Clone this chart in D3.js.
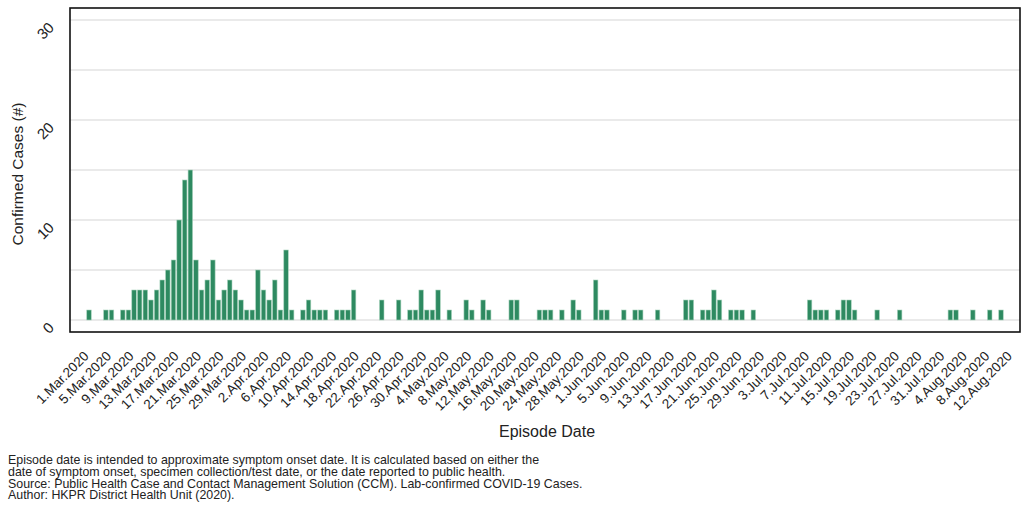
<!DOCTYPE html>
<html>
<head>
<meta charset="utf-8">
<script src="https://cdn.jsdelivr.net/npm/d3@7"></script>
<style>
  html, body { margin: 0; padding: 0; background: #fff; }
  svg { display: block; font-family: "Liberation Sans", Arial, sans-serif; }
</style>
</head>
<body>
<svg id="chart" width="1021" height="508"></svg>
<script>
// ---- data ----
const dates = [
  "2020-03-01","2020-03-04","2020-03-05","2020-03-07","2020-03-08","2020-03-09","2020-03-10",
  "2020-03-11","2020-03-12","2020-03-13","2020-03-14","2020-03-15","2020-03-16","2020-03-17",
  "2020-03-18","2020-03-19","2020-03-20","2020-03-21","2020-03-22","2020-03-23","2020-03-24",
  "2020-03-25","2020-03-26","2020-03-27","2020-03-28","2020-03-29","2020-03-30","2020-03-31",
  "2020-04-01","2020-04-02","2020-04-03","2020-04-04","2020-04-05","2020-04-06","2020-04-08",
  "2020-04-09","2020-04-10","2020-04-11","2020-04-12","2020-04-14","2020-04-15","2020-04-16",
  "2020-04-17","2020-04-22","2020-04-25","2020-04-27","2020-04-28","2020-04-29","2020-04-30",
  "2020-05-01","2020-05-02","2020-05-04","2020-05-07","2020-05-08","2020-05-10","2020-05-11",
  "2020-05-15","2020-05-16","2020-05-20","2020-05-21","2020-05-22","2020-05-24","2020-05-26",
  "2020-05-27","2020-05-30","2020-05-31","2020-06-01","2020-06-04","2020-06-06","2020-06-07",
  "2020-06-10","2020-06-15","2020-06-16","2020-06-18","2020-06-19","2020-06-20","2020-06-21",
  "2020-06-23","2020-06-24","2020-06-25","2020-06-27","2020-07-07","2020-07-08","2020-07-09",
  "2020-07-10","2020-07-12","2020-07-13","2020-07-14","2020-07-15","2020-07-19","2020-07-23",
  "2020-08-01","2020-08-02","2020-08-05","2020-08-08","2020-08-10"
];
const cases = [
  1,1,1,1,1,3,3,
  3,2,3,4,5,6,10,
  14,15,6,3,4,6,2,
  3,4,3,2,1,1,5,
  3,2,4,1,7,1,1,
  2,1,1,1,1,1,1,
  3,2,2,1,1,3,1,
  1,3,1,2,1,2,1,
  2,2,1,1,1,1,2,
  1,4,1,1,1,1,1,
  1,2,2,1,1,3,2,
  1,1,1,1,2,1,1,
  1,1,2,2,1,1,1,
  1,1,1,1,1
];
const tickDates = [
  "2020-03-01","2020-03-05","2020-03-09","2020-03-13","2020-03-17","2020-03-21","2020-03-25","2020-03-29",
  "2020-04-02","2020-04-06","2020-04-10","2020-04-14","2020-04-18","2020-04-22","2020-04-26","2020-04-30",
  "2020-05-04","2020-05-08","2020-05-12","2020-05-16","2020-05-20","2020-05-24","2020-05-28",
  "2020-06-01","2020-06-05","2020-06-09","2020-06-13","2020-06-17","2020-06-21","2020-06-25","2020-06-29",
  "2020-07-03","2020-07-07","2020-07-11","2020-07-15","2020-07-19","2020-07-23","2020-07-27","2020-07-31",
  "2020-08-04","2020-08-08","2020-08-12"
];
const yTickValues = [0, 10, 20, 30];
const yGridValues = [0, 5, 10, 15, 20, 25, 30];
const xTitle = "Episode Date";
const yTitle = "Confirmed Cases (#)";
const footnote = [
  "Episode date is intended to approximate symptom onset date. It is calculated based on either the",
  "date of symptom onset, specimen collection/test date, or the date reported to public health.",
  "Source: Public Health Case and Contact Management Solution (CCM). Lab-confirmed COVID-19 Cases.",
  "Author: HKPR District Health Unit (2020)."
];

// ---- layout ----
const parse = d3.utcParse("%Y-%m-%d");
const fmt = d3.utcFormat("%-d.%b.%Y");
const data = dates.map((d, i) => ({ date: parse(d), value: cases[i] }));
const panel = { left: 70, right: 1020, top: 8, bottom: 332 };

const x = d3.scaleUtc()
  .domain([d3.utcHour.offset(parse("2020-03-01"), -81), d3.utcHour.offset(parse("2020-08-12"), 33)])
  .range([panel.left, panel.right]);
const y = d3.scaleLinear().domain([0, 30]).range([320, 20]);

const svg = d3.select("#chart");
const dayPx = x(parse("2020-03-02")) - x(parse("2020-03-01"));
const barW = dayPx * 0.8;

// gridlines
svg.append("g").selectAll("line").data(yGridValues).join("line")
  .attr("x1", panel.left).attr("x2", panel.right)
  .attr("y1", d => y(d)).attr("y2", d => y(d))
  .attr("stroke", "#e3e3e3").attr("stroke-width", 1.6);

// bars
svg.append("g").selectAll("rect").data(data).join("rect")
  .attr("x", d => x(d.date) - barW / 2)
  .attr("width", barW)
  .attr("y", d => y(d.value))
  .attr("height", d => y(0) - y(d.value))
  .attr("fill", "#2e8a61")
  .attr("stroke", "#a8d3bd")
  .attr("stroke-width", 0.6);

// panel border
svg.append("rect")
  .attr("x", panel.left).attr("y", panel.top)
  .attr("width", panel.right - panel.left).attr("height", panel.bottom - panel.top)
  .attr("fill", "none").attr("stroke", "#111").attr("stroke-width", 1.6);

// y axis tick labels (rotated)
const yAxis = d3.axisLeft(y).tickValues(yTickValues).tickSize(0).tickFormat(d3.format("d"));
const gy = svg.append("g").attr("transform", `translate(${panel.left},0)`).call(yAxis);
gy.select(".domain").remove();
gy.selectAll(".tick text")
  .attr("font-family", "Liberation Sans, Arial, sans-serif")
  .attr("font-size", 15).attr("fill", "#222")
  .attr("x", null).attr("dy", null)
  .attr("text-anchor", "end")
  .attr("transform", "translate(-15,8) rotate(-45)");

// x axis tick labels (rotated)
const xAxis = d3.axisBottom(x).tickValues(tickDates.map(parse)).tickSize(0).tickFormat(fmt);
const gx = svg.append("g").attr("transform", `translate(0,${panel.bottom})`).call(xAxis);
gx.select(".domain").remove();
gx.selectAll(".tick text")
  .attr("font-family", "Liberation Sans, Arial, sans-serif")
  .attr("font-size", 13.5).attr("fill", "#222")
  .attr("y", null).attr("dy", null)
  .attr("text-anchor", "end")
  .attr("transform", "translate(0,25) rotate(-45)");

// axis titles
svg.append("text")
  .attr("x", (panel.left + panel.right) / 2 + 2).attr("y", 437)
  .attr("text-anchor", "middle").attr("font-size", 16).attr("fill", "#222")
  .text(xTitle);
svg.append("text")
  .attr("transform", "translate(23,174) rotate(-90)")
  .attr("text-anchor", "middle").attr("font-size", 15.5).attr("fill", "#222")
  .text(yTitle);

// footnote
svg.append("g").selectAll("text").data(footnote).join("text")
  .attr("x", 8).attr("y", (d, i) => 464 + i * 11.8)
  .attr("font-size", 12.4).attr("fill", "#222")
  .text(d => d);
</script>
</body>
</html>
